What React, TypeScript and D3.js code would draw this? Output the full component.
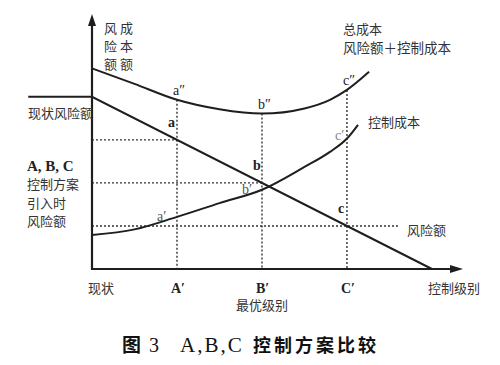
import { useRef, useEffect } from "react";
import * as d3 from "d3";

// ── Data (control level on x, amount on y) ───────────────────────────────────

const RISK_LEVELS = [-0.75, 0, 4];
const RISK_VALUES = [4, 4, 0];

const CTRL_LEVELS = [0, 0.5, 1, 1.5, 2, 2.5, 2.8, 3, 3.13];
const CTRL_VALUES = [0.79, 0.92, 1.21, 1.53, 1.84, 2.37, 2.72, 3.03, 3.35];

const TOTAL_LEVELS = [0, 0.5, 1, 1.5, 2, 2.5, 2.8, 3, 3.26];
const TOTAL_VALUES = [4.66, 4.3, 3.93, 3.71, 3.61, 3.73, 3.93, 4.16, 4.58];

const OPTION_LEVELS = [1, 2, 3];
const OPTION_TICKS = ["A′", "B′", "C′"];
const OPTION_NAMES = ["a", "b", "c"];

// ── Constants ─────────────────────────────────────────────────────────────────

const W = 500;
const H = 365;
const X0 = 92;
const Y0 = 269;
const INK = "#1e1e1e";
const CJK = "'Noto Sans CJK SC', sans-serif";
const SERIF = "'Liberation Serif', 'DejaVu Serif', serif";

function lerp(xs: number[], ys: number[], x: number): number {
  for (let i = 1; i < xs.length; i++) {
    if (x <= xs[i]) {
      const t = (x - xs[i - 1]) / (xs[i] - xs[i - 1]);
      return ys[i - 1] + t * (ys[i] - ys[i - 1]);
    }
  }
  return ys[ys.length - 1];
}

function renderChart(svg: SVGSVGElement): void {
  const root = d3.select(svg);
  root.selectAll("*").remove();

  const x = d3.scaleLinear().domain([0, 4.33]).range([X0, 460]);
  const y = d3.scaleLinear().domain([0, 5.9]).range([Y0, 15]);

  root.append("rect").attr("width", W).attr("height", H).attr("fill", "#fff");

  const g = root.append("g");

  // dotted guides
  const dots = g.append("g").attr("stroke", "#333").attr("stroke-width", 1.4).attr("stroke-dasharray", "2,2");
  OPTION_LEVELS.forEach((lv, i) => {
    const top = lerp(TOTAL_LEVELS, TOTAL_VALUES, lv);
    const risk = lerp(RISK_LEVELS, RISK_VALUES, lv);
    dots.append("line").attr("x1", x(lv)).attr("x2", x(lv)).attr("y1", y(top)).attr("y2", y(0));
    const hEnd = i === OPTION_LEVELS.length - 1 ? 3.6 : lv;
    dots.append("line").attr("x1", x(0)).attr("x2", x(hEnd)).attr("y1", y(risk)).attr("y2", y(risk));
  });

  // curves
  const smooth = d3
    .line<[number, number]>()
    .x((d) => x(d[0]))
    .y((d) => y(d[1]))
    .curve(d3.curveMonotoneX);
  const straight = d3
    .line<[number, number]>()
    .x((d) => x(d[0]))
    .y((d) => y(d[1]));

  const pairs = (xs: number[], ys: number[]) => xs.map((v, i) => [v, ys[i]] as [number, number]);

  g.append("path")
    .attr("d", straight(pairs(RISK_LEVELS, RISK_VALUES)))
    .attr("fill", "none")
    .attr("stroke", INK)
    .attr("stroke-width", 2);
  g.append("path")
    .attr("d", smooth(pairs(CTRL_LEVELS, CTRL_VALUES)))
    .attr("fill", "none")
    .attr("stroke", INK)
    .attr("stroke-width", 2);
  g.append("path")
    .attr("d", smooth(pairs(TOTAL_LEVELS, TOTAL_VALUES)))
    .attr("fill", "none")
    .attr("stroke", INK)
    .attr("stroke-width", 2);

  // axes with arrows
  g.append("line").attr("x1", x(0)).attr("x2", x(0)).attr("y1", y(0) + 1).attr("y2", 24).attr("stroke", INK).attr("stroke-width", 2.2);
  g.append("line").attr("x1", x(0) - 1).attr("x2", 452).attr("y1", y(0)).attr("y2", y(0)).attr("stroke", INK).attr("stroke-width", 2.2);
  g.append("path").attr("d", `M${x(0)},14 L${x(0) - 4},26 L${x(0) + 4},26 Z`).attr("fill", INK);
  g.append("path").attr("d", `M463,${y(0)} L450,${y(0) - 4} L450,${y(0) + 4} Z`).attr("fill", INK);

  // x tick labels
  const ticks = g.append("g").attr("font-family", SERIF).attr("font-size", 14).attr("font-weight", "bold").attr("fill", "#222");
  OPTION_LEVELS.forEach((lv, i) => {
    ticks.append("text").attr("x", x(lv) - 6).attr("y", 293).text(OPTION_TICKS[i]);
  });

  // point labels
  const pt = g.append("g").attr("font-family", SERIF).attr("font-size", 14).attr("fill", "#222");
  OPTION_LEVELS.forEach((lv, i) => {
    const n = OPTION_NAMES[i];
    const top = lerp(TOTAL_LEVELS, TOTAL_VALUES, lv);
    const risk = lerp(RISK_LEVELS, RISK_VALUES, lv);
    const ctrl = lerp(CTRL_LEVELS, CTRL_VALUES, lv);
    pt.append("text").attr("x", x(lv) - 4).attr("y", y(top) - 5).text(n + "″");
    pt.append("text").attr("x", x(lv) - 9).attr("y", y(risk) - 13).attr("font-weight", "bold").text(n);
    pt.append("text")
      .attr("x", x(lv) - (i === 2 ? 12 : 20))
      .attr("y", y(ctrl) + (i === 2 ? 1 : 4))
      .attr("fill", i === 2 ? "#888" : "#555")
      .text(n + "′");
  });

  // text labels
  const lab = g.append("g").attr("font-family", CJK).attr("font-size", 13).attr("fill", "#333");
  const put = (tx: number, ty: number, s: string, size = 13) =>
    lab.append("text").attr("x", tx).attr("y", ty).attr("font-size", size).text(s);

  put(104, 33, "风 成");
  put(104, 51, "险 本");
  put(104, 69, "额 额");
  put(28, 118, "现状风险额");
  lab.append("text").attr("x", 27).attr("y", 171).attr("font-family", SERIF).attr("font-weight", "bold").attr("font-size", 15).attr("fill", "#222").text("A, B, C");
  put(27, 189, "控制方案");
  put(27, 208, "引入时");
  put(27, 226, "风险额");
  put(343, 34, "总成本");
  put(343, 53, "风险额＋控制成本", 13.5);
  put(368, 127, "控制成本");
  put(407, 235, "风险额");
  put(428, 293, "控制级别");
  put(88, 293, "现状");
  put(236, 310, "最优级别");

  // caption
  const cap = g.append("g").attr("fill", "#111").attr("font-weight", "bold");
  cap.append("text").attr("x", 122).attr("y", 352).attr("font-family", CJK).attr("font-size", 19).text("图");
  cap.append("text").attr("x", 149).attr("y", 352).attr("font-family", SERIF).attr("font-size", 20).attr("font-weight", "normal").text("3");
  cap.append("text").attr("x", 180).attr("y", 352).attr("font-family", SERIF).attr("font-size", 21).attr("font-weight", "normal").attr("letter-spacing", 2).text("A,B,C");
  cap.append("text").attr("x", 253).attr("y", 352).attr("font-family", CJK).attr("font-size", 18).attr("letter-spacing", 3).text("控制方案比较");
}

// ── Component ─────────────────────────────────────────────────────────────────

export default function App() {
  const svgRef = useRef<SVGSVGElement>(null);

  useEffect(() => {
    if (svgRef.current) renderChart(svgRef.current);
  }, []);

  return (
    <svg
      ref={svgRef}
      width={W}
      height={H}
      viewBox={`0 0 ${W} ${H}`}
      style={{ position: "absolute", left: 0, top: 0 }}
    />
  );
}
